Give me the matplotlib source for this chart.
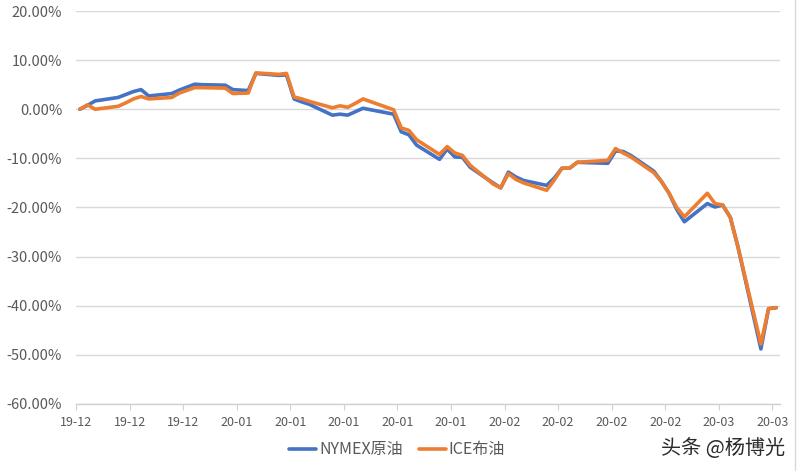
import matplotlib
matplotlib.use("Agg")
import matplotlib.pyplot as plt
import pandas as pd

plt.rcParams['font.family'] = ['Noto Sans CJK SC', 'DejaVu Sans']

# trading days shown on the chart
dates = ['2019-12-11', '2019-12-12', '2019-12-13', '2019-12-16', '2019-12-17', '2019-12-18',
         '2019-12-19', '2019-12-20', '2019-12-23', '2019-12-24', '2019-12-26', '2019-12-27',
         '2019-12-30', '2019-12-31',
         '2020-01-02', '2020-01-03', '2020-01-06', '2020-01-07', '2020-01-08', '2020-01-09',
         '2020-01-10', '2020-01-13', '2020-01-14', '2020-01-15', '2020-01-16', '2020-01-17',
         '2020-01-21', '2020-01-22', '2020-01-23', '2020-01-24', '2020-01-27', '2020-01-28',
         '2020-01-29', '2020-01-30', '2020-01-31',
         '2020-02-03', '2020-02-04', '2020-02-05', '2020-02-06', '2020-02-07', '2020-02-10',
         '2020-02-11', '2020-02-12', '2020-02-13', '2020-02-14', '2020-02-18', '2020-02-19',
         '2020-02-20', '2020-02-21', '2020-02-24', '2020-02-25', '2020-02-26', '2020-02-27',
         '2020-02-28',
         '2020-03-02', '2020-03-03', '2020-03-04', '2020-03-05', '2020-03-06', '2020-03-09',
         '2020-03-10', '2020-03-11']

# cumulative change, %
nymex = [0, 0.8, 1.7, 2.4, 3.0, 3.6, 4.0, 2.7, 3.2, 3.9, 5.1, 5.0, 4.9, 4.0,
         3.8, 7.3, 6.9, 7.0, 2.1, 1.5, 1.0, -1.2, -1.0, -1.2, -0.5, 0.2, -1.0, -4.6,
         -5.2, -7.3, -10.2, -8.1, -9.7, -9.8, -11.8,
         -15.0, -16.0, -12.8, -13.8, -14.5, -15.5, -14.0, -12.0, -12.0, -10.8, -11.0,
         -8.5, -8.6, -9.4, -12.6, -14.7, -17.1, -20.4, -22.9,
         -19.2, -19.9, -19.5, -22.0, -28.0, -48.8, -40.6, -40.4]

ice = [0, 0.9, 0.0, 0.6, 1.3, 2.1, 2.6, 2.1, 2.4, 3.3, 4.4, 4.4, 4.3, 3.2,
       3.3, 7.4, 7.1, 7.3, 2.5, 2.1, 1.6, 0.3, 0.7, 0.4, 1.2, 2.1, -0.1, -3.8,
       -4.3, -6.2, -9.2, -7.6, -8.9, -9.4, -11.4,
       -15.2, -16.0, -13.1, -14.3, -15.0, -16.5, -14.4, -12.0, -12.0, -10.8, -10.4,
       -8.0, -8.9, -9.7, -12.9, -14.7, -17.1, -20.0, -21.9,
       -17.1, -19.2, -19.5, -22.0, -28.0, -47.8, -40.6, -40.4]

tick_labels = ['19-12', '19-12', '19-12', '20-01', '20-01', '20-01', '20-01',
               '20-01', '20-02', '20-02', '20-02', '20-02', '20-03', '20-03']
y_ticks = [20, 10, 0, -10, -20, -30, -40, -50, -60]

# day offsets from the first date (date axis, one slot per day)
d = pd.to_datetime(dates)
days = (d - d[0]).days

fig = plt.figure(figsize=(7.97, 4.71), dpi=100)
ax = fig.add_axes([0.0954, 0.1423, 0.8833, 0.8343])

ax.plot(days, nymex, color='#4472C4', lw=2.6, solid_joinstyle='round',
        solid_capstyle='round', label='NYMEX原油')
ax.plot(days, ice, color='#ED7D31', lw=2.6, solid_joinstyle='round',
        solid_capstyle='round', label='ICE布油')

ax.set_ylim(-60, 20)
ax.set_yticks(y_ticks)
ax.set_yticklabels(['%.2f%%' % v for v in y_ticks])
ax.set_xlim(-0.5, days[-1] + 0.5)
ax.set_xticks([k * 7 - 0.5 for k in range(len(tick_labels))])
ax.set_xticklabels(tick_labels)

ax.grid(axis='y', color='#D9D9D9', lw=1)
ax.set_axisbelow(True)
for s in ['top', 'right', 'left']:
    ax.spines[s].set_visible(False)
ax.spines['bottom'].set_color('#D0D0D0')
ax.spines['bottom'].set_linewidth(1)

ax.tick_params(axis='y', length=0, pad=10, labelsize=10.5, labelcolor='#595959')
ax.tick_params(axis='x', length=4, color='#D0D0D0', pad=5, labelsize=9,
               labelcolor='#595959')

fig.legend(loc='center', bbox_to_anchor=(0.498, 0.045), ncol=2, frameon=False,
           fontsize=11.5, handlelength=1.7, handletextpad=0.2, columnspacing=1.0,
           labelcolor='#595959')

fig.text(0.985, 0.047, '头条 @杨博光', ha='right', va='center', fontsize=14.5,
         color='#2b2b2b')

fig.add_artist(plt.Line2D([0.9975, 0.9975], [0, 1], color='#D9D9D9', lw=1))

fig.savefig('out.png', dpi=100)
